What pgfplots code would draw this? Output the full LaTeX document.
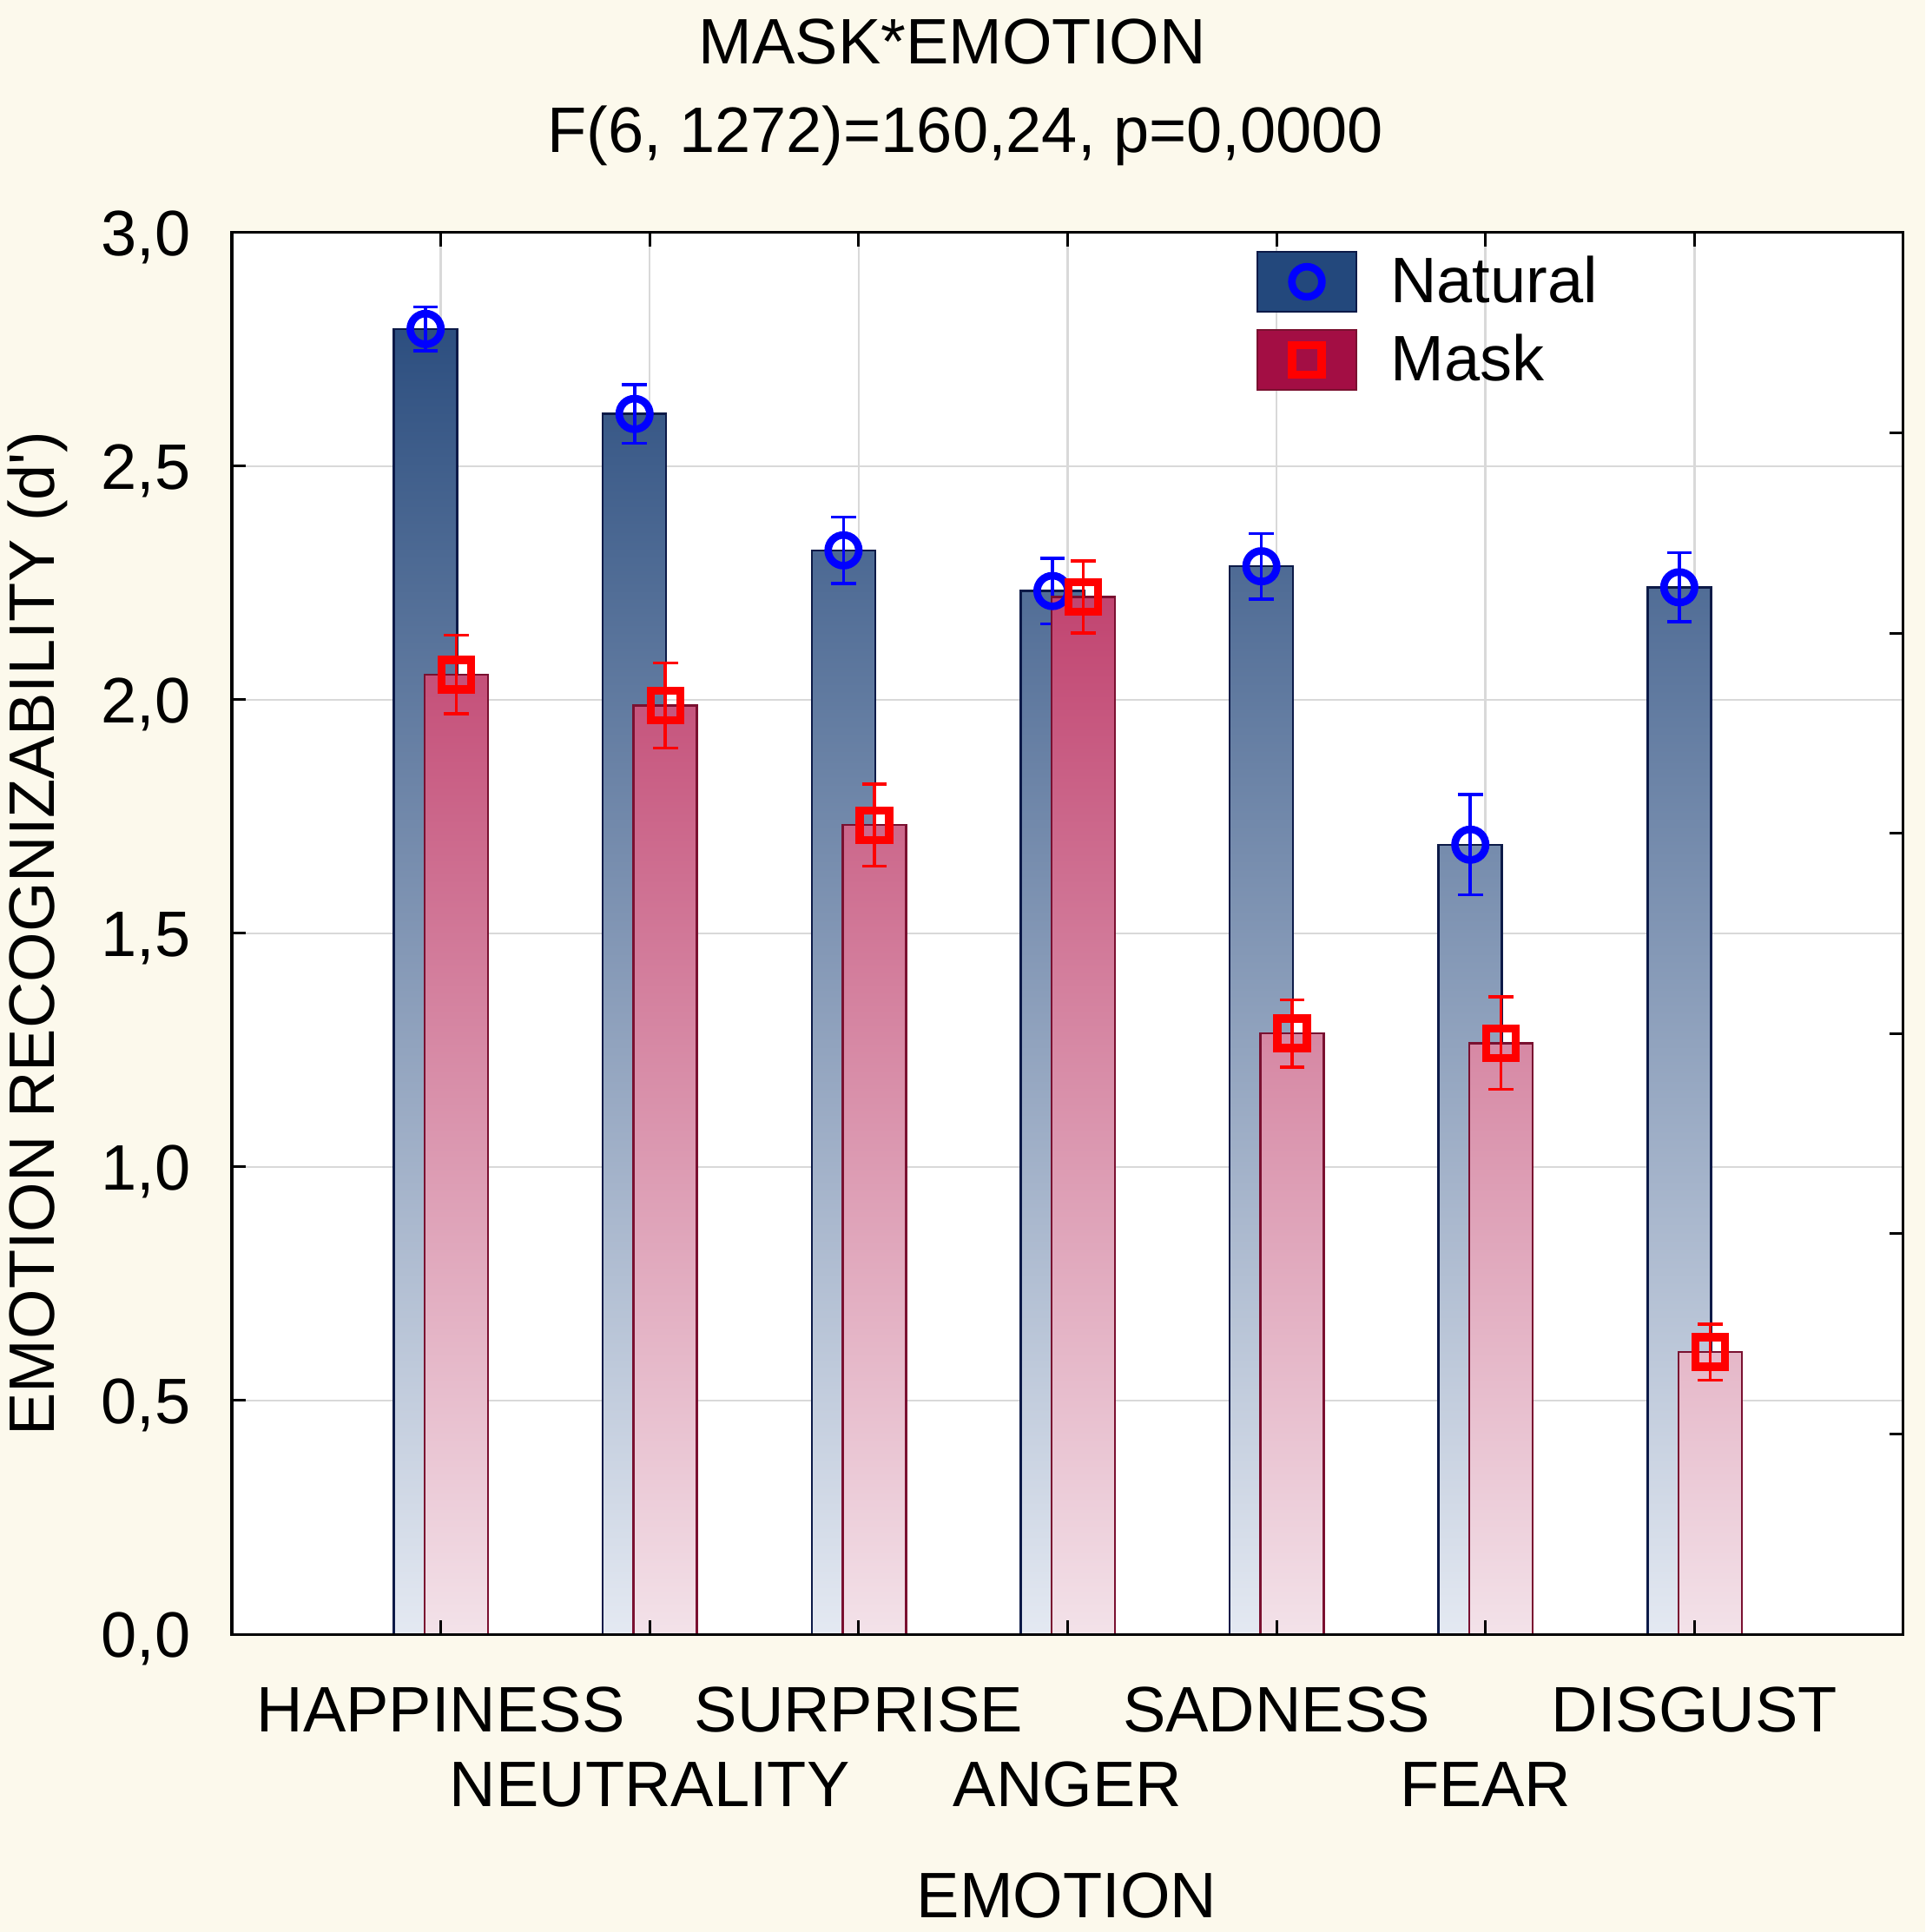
\documentclass[border=0pt]{standalone}
\usepackage{pgfplots}
\pgfplotsset{compat=1.18}
\usepackage{pgfplotstable}
\usepackage{fontspec}
\setmainfont{Liberation Sans}
\definecolor{bgcream}{RGB}{252,249,236}
\definecolor{natdark}{RGB}{31,67,119}
\definecolor{natlight}{RGB}{228,233,242}
\definecolor{natedge}{RGB}{12,26,72}
\definecolor{maskdark}{RGB}{175,13,70}
\definecolor{masklight}{RGB}{243,226,233}
\definecolor{maskedge}{RGB}{122,16,48}
\definecolor{legnat}{RGB}{35,72,124}
\definecolor{legmask}{RGB}{163,14,68}
\definecolor{gridgray}{RGB}{217,217,217}
\newcommand\chartfont{\fontsize{22.2}{26}\selectfont}

\pgfplotstableread{
x nat naterr mask maskerr
0 2.794 0.047 2.054 0.084
1 2.612 0.063 1.988 0.091
2 2.320 0.071 1.732 0.088
3 2.233 0.070 2.220 0.077
4 2.286 0.070 1.286 0.072
5 1.690 0.107 1.265 0.099
6 2.241 0.074 0.604 0.060
}\emotiondata

\begin{document}
\begin{tikzpicture}
\fill[bgcream] (0,0) rectangle (665.1pt,667.5pt);
\useasboundingbox (0,0) rectangle (665.1pt,667.5pt);
\begin{axis}[
  at={(80.1pt,102.9pt)}, anchor=south west, scale only axis,
  width=577.5pt, height=484.2pt,
  xmin=-1, xmax=7, ymin=0, ymax=3,
  axis background/.style={fill=white},
  axis line style={line width=0.9pt},
  xtick={0,...,6},
  xticklabels={HAPPINESS,\raisebox{-26pt}{NEUTRALITY},SURPRISE,\raisebox{-26pt}{ANGER},SADNESS,\raisebox{-26pt}{FEAR},DISGUST},
  xtick style={draw=none},
  ytick={0,0.5,1,1.5,2,2.5,3},
  ytick pos=left, tick align=inside, major tick length=4.8pt,
  ytick style={line width=0.9pt, black},
  grid=major, grid style={gridgray, line width=0.75pt},
  tick label style={font=\chartfont},
  /pgf/number format/assume math mode=true,
  xticklabel style={anchor=base, inner sep=0pt, yshift=-33.6pt},
  yticklabel style={anchor=base east, inner sep=0pt, xshift=-14pt, yshift=-7.95pt, /pgf/number format/.cd, fixed, fixed zerofill, precision=1, use comma},
  legend style={at={(0.6125,0.9876)}, anchor=north west, draw=none, fill=none,
    inner sep=0pt, row sep=5.5pt, column sep=11.4pt, font=\chartfont,
    nodes={inner sep=0pt}, cells={anchor=west}},
  legend cell align=left,
]
\addlegendimage{legend image code/.code={%
  \draw[fill=legnat, draw=natedge, line width=0.8pt] (0pt,-10.35pt) rectangle (34.2pt,10.35pt);
  \draw[blue, line width=2.6pt] (17.1pt,0pt) circle[radius=5.2pt];}}
\addlegendentry{Natural}
\addlegendimage{legend image code/.code={%
  \draw[fill=legmask, draw=maskedge, line width=0.8pt] (0pt,-10.35pt) rectangle (34.2pt,10.35pt);
  \draw[red, line width=2.8pt] (12.0pt,-5.1pt) rectangle (22.2pt,5.1pt);}}
\addlegendentry{Mask}

% Natural bars
\pgfplotsinvokeforeach{0,...,6}{%
  \pgfplotstablegetelem{#1}{nat}\of\emotiondata
  \let\barval\pgfplotsretval
  \pgfmathsetmacro\barpct{\barval/3*100}%
  \edef\dobar{\noexpand\addplot[forget plot, ybar, bar width=21.9pt, bar shift=-5.25pt,
    draw=natedge, line width=0.75pt, bottom color=natlight, top color=natdark!\barpct!natlight]
    coordinates {(#1,\barval)};}%
  \dobar
}
\addplot[forget plot, only marks, mark=o, mark size=5.3pt, color=blue,
  mark options={line width=2.6pt, draw=blue},
  error bars/.cd, y dir=both, y explicit,
  error bar style={line width=1.05pt, blue},
  error mark options={rotate=90, mark size=4.3pt, line width=1.05pt, blue}]
  table[x expr=\thisrow{x}-0.0727, y=nat, y error=naterr] {\emotiondata};

% Mask bars
\pgfplotsinvokeforeach{0,...,6}{%
  \pgfplotstablegetelem{#1}{mask}\of\emotiondata
  \let\barval\pgfplotsretval
  \pgfmathsetmacro\barpct{\barval/3*100}%
  \edef\dobar{\noexpand\addplot[forget plot, ybar, bar width=21.9pt, bar shift=5.4pt,
    draw=maskedge, line width=0.75pt, bottom color=masklight, top color=maskdark!\barpct!masklight]
    coordinates {(#1,\barval)};}%
  \dobar
}
\addplot[forget plot, only marks, mark=square, mark size=5.1pt, color=red,
  mark options={line width=2.8pt, draw=red},
  error bars/.cd, y dir=both, y explicit,
  error bar style={line width=1.05pt, red},
  error mark options={rotate=90, mark size=4.3pt, line width=1.05pt, red}]
  table[x expr=\thisrow{x}+0.0748, y=mask, y error=maskerr] {\emotiondata};
\end{axis}
% overlay axis for the ticks drawn on top and the right-hand ticks
\begin{axis}[
  at={(80.1pt,102.9pt)}, anchor=south west, scale only axis,
  width=577.5pt, height=484.2pt,
  xmin=-1, xmax=7, ymin=0, ymax=7,
  xtick={0,...,6}, ytick={1,...,6},
  xticklabels={}, yticklabels={},
  xtick pos=both, ytick pos=right, tick align=inside, major tick length=4.8pt,
  tick style={line width=0.9pt, black},
  axis line style={line width=0.9pt},
]
\end{axis}
\node[anchor=base, font=\chartfont] at (329pt,645.4pt) {MASK*EMOTION};
\node[anchor=base, font=\chartfont] at (333.5pt,614.9pt) {F(6, 1272)=160,24, p=0,0000};
\node[anchor=base, font=\chartfont] at (368.5pt,5pt) {EMOTION};
\node[anchor=base, rotate=90, font=\chartfont] at (18.6pt,345pt) {EMOTION RECOGNIZABILITY (d\textquotesingle)};
\end{tikzpicture}
\end{document}
